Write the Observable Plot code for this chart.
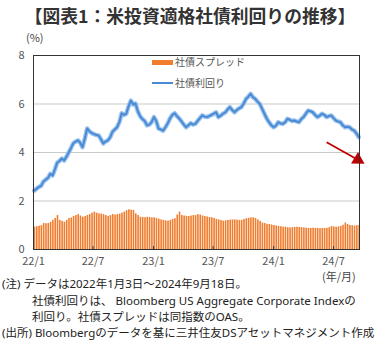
<!DOCTYPE html>
<html><head><meta charset="utf-8">
<script src="https://cdn.jsdelivr.net/npm/d3@7"></script>
<script src="https://cdn.jsdelivr.net/npm/@observablehq/plot@0.6"></script>
<style>
body{margin:0;background:#fff;font-family:"Noto Sans CJK JP","Noto Sans",sans-serif;}
#wrap{position:relative;width:386px;height:352px;overflow:hidden;}
.abs{position:absolute;white-space:nowrap;}
#title{left:0;width:380px;top:3px;text-align:center;font-size:17.8px;font-weight:bold;color:#333;line-height:24px;}
#pct{left:26px;top:29px;font-size:11px;color:#444;}
.leg{font-size:10px;color:#555;line-height:12px;}
.note{font-family:"Noto Sans","Noto Sans CJK JP",sans-serif;font-size:11.5px;color:#222;line-height:14px;}
</style></head>
<body>
<div id="wrap">
  <div id="title" class="abs">【図表1：米投資適格社債利回りの推移】</div>
  <div id="pct" class="abs">(%)</div>
  <div id="chart" class="abs" style="left:0;top:0"></div>
  <div class="abs" style="left:152px;top:60px;width:21px;height:5px;background:#f07d2e"></div>
  <div class="abs leg" style="left:175px;top:56px">社債スプレッド</div>
  <div class="abs" style="left:152px;top:82px;width:21px;height:2px;background:#4a8ad4"></div>
  <div class="abs leg" style="left:175px;top:77px">社債利回り</div>
  <div class="abs" style="left:322px;top:270px;font-size:11px;line-height:12px;color:#444">(年/月)</div>
  <div class="abs note" style="left:2px;top:277px">(注) データは2022年1月3日～2024年9月18日。</div>
  <div class="abs note" style="left:32px;top:294px">社債利回りは、 Bloomberg US Aggregate Corporate Indexの</div>
  <div class="abs note" style="left:32px;top:310px">利回り。社債スプレッドは同指数のOAS。</div>
  <div class="abs note" style="left:2px;top:326px">(出所) Bloombergのデータを基に三井住友DSアセットマネジメント作成</div>
</div>
<script>
// Weekly observations starting 2022-01-03
const startDate = "2022-01-03";
const yieldPct = [
2.43,2.50,2.58,2.62,2.80,2.88,2.95,3.12,3.05,3.30,3.58,3.65,3.75,3.67,3.82,4.00,4.18,4.38,4.45,4.50,
4.40,4.22,4.57,4.99,4.88,4.80,4.76,4.72,4.70,4.55,4.37,4.45,4.50,4.62,4.85,4.95,5.04,5.25,5.62,5.55,
5.60,5.90,6.14,5.98,6.02,5.70,5.50,5.38,5.30,5.12,5.15,5.25,5.46,5.30,4.99,4.95,4.90,5.04,5.20,5.40,
5.55,5.62,5.50,5.40,5.28,5.15,5.04,5.12,5.21,5.15,5.18,5.30,5.42,5.53,5.48,5.46,5.50,5.55,5.60,5.66,
5.46,5.52,5.60,5.65,5.78,5.87,5.75,5.66,5.75,5.82,5.87,6.02,6.21,6.30,6.42,6.28,6.21,6.10,6.00,5.80,
5.60,5.40,5.25,5.12,5.04,5.11,5.25,5.20,5.18,5.25,5.39,5.35,5.30,5.32,5.28,5.25,5.38,5.46,5.60,5.73,
5.70,5.66,5.55,5.46,5.52,5.60,5.55,5.46,5.50,5.53,5.42,5.32,5.28,5.25,5.12,5.04,5.06,5.04,4.95,4.90,
4.78,4.63];
const spreadPct = [
0.92,0.94,0.96,0.99,1.07,1.06,1.07,1.12,1.20,1.28,1.40,1.20,1.16,1.13,1.20,1.28,1.30,1.36,1.40,1.44,
1.38,1.33,1.36,1.40,1.44,1.50,1.54,1.50,1.47,1.46,1.44,1.40,1.36,1.40,1.44,1.42,1.44,1.46,1.50,1.54,
1.60,1.64,1.62,1.61,1.47,1.40,1.33,1.32,1.31,1.33,1.32,1.30,1.31,1.28,1.25,1.22,1.20,1.18,1.17,1.20,
1.24,1.27,1.42,1.54,1.40,1.38,1.37,1.36,1.38,1.40,1.40,1.44,1.42,1.38,1.36,1.34,1.32,1.31,1.28,1.24,
1.22,1.20,1.17,1.18,1.20,1.21,1.22,1.22,1.21,1.20,1.20,1.24,1.27,1.29,1.30,1.31,1.28,1.22,1.16,1.09,
1.07,1.04,1.03,1.01,0.99,0.97,0.95,0.94,0.92,0.92,0.90,0.89,0.90,0.91,0.92,0.91,0.90,0.89,0.88,0.87,
0.87,0.88,0.87,0.87,0.86,0.87,0.87,0.87,0.90,0.95,0.93,0.92,0.93,0.95,1.00,1.09,1.03,0.99,0.98,0.97,
0.98,0.99];
const tickDates = ["2022-01-01","2022-07-01","2023-01-01","2023-07-01","2024-01-01","2024-07-01"];
const tickLabels = ["22/1","22/7","23/1","23/7","24/1","24/7"];
const yTicks = [0,2,4,6,8];
const gridTicks = [2,4,6];
const arrowNote = [{from:"2024-06-10", to:"2024-09-13", y1:4.42, y2:3.70}];

const t0 = new Date(startDate + "T00:00:00Z");
const week = (i) => new Date(t0.getTime() + i*7*864e5);
const data = yieldPct.map((v,i)=>({date:week(i), end:week(i+1), yld:v, spr:spreadPct[i]}));
const tickD = tickDates.map(s=>new Date(s+"T00:00:00Z"));
const labelOf = new Map(tickD.map((d,i)=>[+d, tickLabels[i]]));
const arrows = arrowNote.map(a=>({x1:new Date(a.from+"T00:00:00Z"), x2:new Date(a.to+"T00:00:00Z"), y1:a.y1, y2:a.y2}));

const chart = Plot.plot({
  width:386, height:280,
  marginTop:55, marginBottom:31, marginLeft:33, marginRight:27,
  style:{fontFamily:"'Noto Sans CJK JP', sans-serif", background:"transparent"},
  x:{type:"utc", domain:[new Date("2022-01-01T00:00:00Z"), new Date("2024-09-18T00:00:00Z")]},
  y:{domain:[0,8]},
  marks:[
    Plot.gridY(gridTicks, {stroke:"#c5cbc5", strokeOpacity:1}),
    Plot.rectY(data, {x1:"date", x2:"end", y:"spr", fill:"#f07d2e", insetRight:0.7, clip:"frame"}),
    Plot.lineY(data, {x:"date", y:"yld", stroke:"#9cc4ee", strokeWidth:4.5}),
    Plot.lineY(data, {x:"date", y:"yld", stroke:"#4a8ad4", strokeWidth:2}),
    Plot.link(arrows, {x1:"x1", y1:"y1", x2:"x2", y2:"y2", stroke:"#c00000", strokeWidth:1.8}),
    Plot.dot(arrows, {x:"x2", y:"y2", symbol:"triangle", r:5, fill:"#c00000", stroke:"none", rotate:121}),
    Plot.axisY(yTicks, {tickSize:0, tickPadding:9, fontSize:11, color:"#555", label:null}),
    Plot.axisX(tickD, {tickSize:0, tickPadding:8, fontSize:11, color:"#555", label:null, tickFormat:d=>labelOf.get(+d)}),
    Plot.ruleX(tickD, {x:d=>d, y1:0, y2:0.12, stroke:"#333"}),
    Plot.frame({stroke:"#333"})
  ]
});
document.getElementById("chart").appendChild(chart);
</script>
</body></html>
